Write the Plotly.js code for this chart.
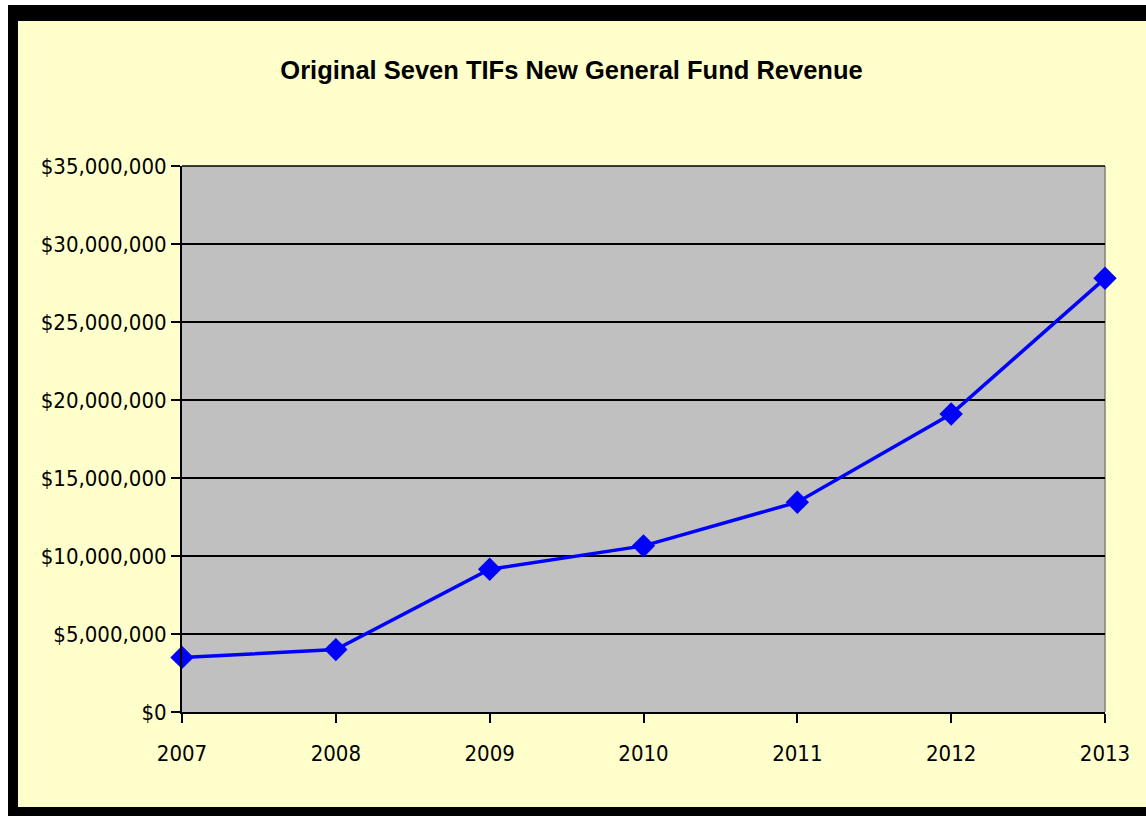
<!DOCTYPE html>
<html>
<head>
<meta charset="utf-8">
<script src="https://cdn.plot.ly/plotly-3.0.1.min.js"></script>
<style>
  html, body { margin: 0; padding: 0; background: #ffffff; width: 1146px; height: 816px; overflow: hidden; }
  #frame { position: absolute; left: 8px; top: 5px; width: 1150px; height: 820px; background: #000000; }
  #chart { position: absolute; left: 18px; top: 21px; width: 1128px; height: 786px; }
</style>
</head>
<body>
<div id="frame"></div>
<div id="chart"></div>
<script>
const years = [2007, 2008, 2009, 2010, 2011, 2012, 2013];
const revenue = [3500000, 4000000, 9150000, 10650000, 13450000, 19100000, 27800000];
const yTickVals = [0, 5000000, 10000000, 15000000, 20000000, 25000000, 30000000, 35000000];
const yTickText = ["$0", "$5,000,000", "$10,000,000", "$15,000,000", "$20,000,000", "$25,000,000", "$30,000,000", "$35,000,000"];
const chartTitle = "Original Seven TIFs New General Fund Revenue";

const trace = {
  x: years,
  y: revenue,
  type: "scatter",
  mode: "lines+markers",
  line: { color: "#0000FF", width: 3.5 },
  marker: { symbol: "diamond", size: 18, color: "#0000FF" },
  cliponaxis: false,
  hoverinfo: "x+y"
};

const narrow = "'DejaVu Sans Condensed', 'Liberation Sans Narrow', 'Arial Narrow', sans-serif";

const layout = {
  width: 1128,
  height: 786,
  margin: { l: 164, r: 41, t: 145, b: 95 },
  paper_bgcolor: "#FFFFCC",
  plot_bgcolor: "#C0C0C0",
  showlegend: false,
  title: {
    text: chartTitle,
    font: { family: "'Liberation Sans', Arial, sans-serif", size: 25.5, color: "#000000", weight: "bold" },
    x: 0.4907, xanchor: "center",
    y: 1 - 49 / 786, yanchor: "middle", yref: "container"
  },
  xaxis: {
    range: [2007, 2013],
    tickvals: years,
    ticktext: years.map(String),
    ticks: "outside",
    ticklen: 9,
    tickwidth: 1.5,
    tickcolor: "#000000",
    showline: true,
    linecolor: "#000000",
    linewidth: 2,
    showgrid: false,
    zeroline: false,
    tickfont: { family: narrow, size: 22, color: "#000000" },
    ticklabelstandoff: 12,
    fixedrange: true
  },
  yaxis: {
    range: [0, 35000000],
    tickvals: yTickVals,
    ticktext: yTickText,
    ticks: "outside",
    ticklen: 9,
    tickwidth: 1.5,
    tickcolor: "#000000",
    showline: true,
    linecolor: "#000000",
    linewidth: 2,
    showgrid: true,
    gridcolor: "#000000",
    gridwidth: 1.5,
    zeroline: false,
    tickfont: { family: narrow, size: 22, color: "#000000" },
    fixedrange: true
  },
  shapes: [
    { type: "line", xref: "paper", yref: "paper", x0: 1, x1: 1, y0: 0, y1: 1,
      line: { color: "#808080", width: 1.5 }, layer: "below" },
    { type: "line", xref: "paper", yref: "paper", x0: 0, x1: 1, y0: 1, y1: 1,
      line: { color: "#000000", width: 1.5 }, layer: "below" }
  ]
};

Plotly.newPlot("chart", [trace], layout, { displayModeBar: false, staticPlot: false });
</script>
</body>
</html>
